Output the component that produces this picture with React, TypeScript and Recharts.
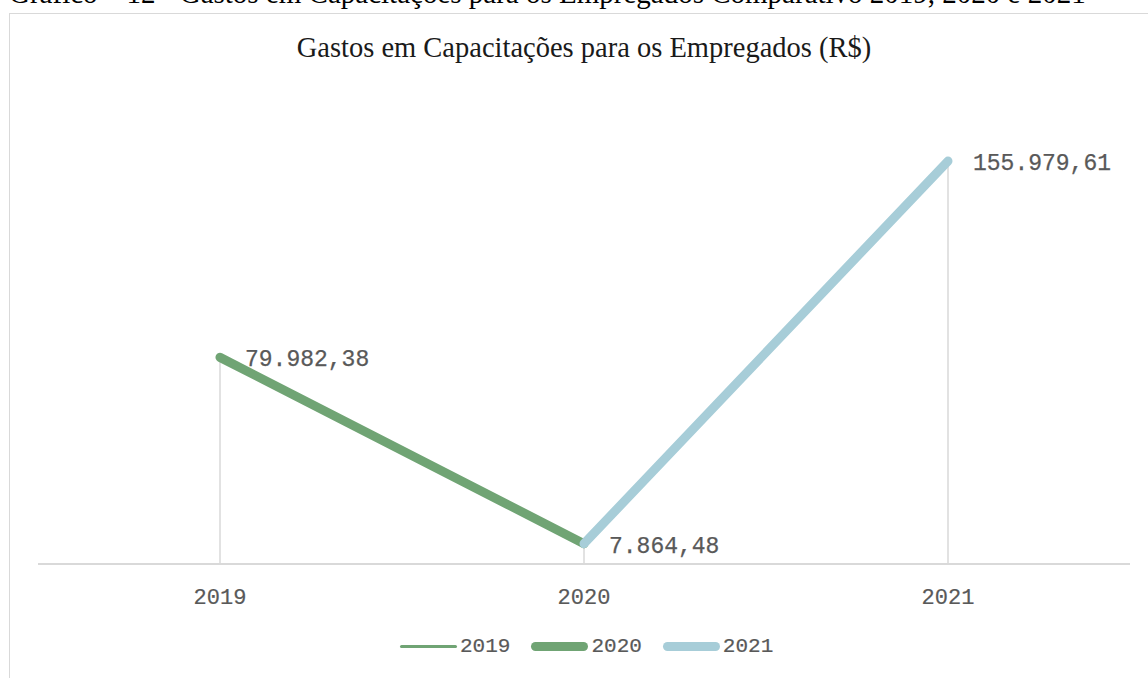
import { LineChart, Line, XAxis, YAxis, ReferenceLine, LabelList } from "recharts"

const categories = ["2019", "2020", "2021"]
const totals = [79982.38, 7864.48, 155979.61]
const series2019: (number | null)[] = [null, null, null]
const series2020: (number | null)[] = [79982.38, 7864.48, null]
const series2021: (number | null)[] = [null, 7864.48, 155979.61]

const green = "#70a474"
const blue = "#a7cdd8"
const grid = "#d9d9d9"
const textColor = "#595959"
const labelFont = "'Liberation Mono', monospace"

const data = categories.map((year, i) => ({
  year,
  s2019: series2019[i],
  s2020: series2020[i],
  s2021: series2021[i],
}))

const legendItems = [
  { name: "2019", color: green, width: 3 },
  { name: "2020", color: green, width: 9 },
  { name: "2021", color: blue, width: 9 },
]

function brl(v: number) {
  const [int, dec] = v.toFixed(2).split(".")
  return int.replace(/\B(?=(\d{3})+(?!\d))/g, ".") + "," + dec
}

function makeLabel(skip: number[]) {
  return (props: any) => {
    const { x, y, value, index } = props
    if (value == null || skip.includes(index)) return null
    return (
      <text
        x={x + 25}
        y={y + 3}
        dominantBaseline="central"
        fontFamily={labelFont}
        fontSize={23}
        fill={textColor}
        stroke={textColor}
        strokeWidth={0.25}
      >
        {brl(value)}
      </text>
    )
  }
}

function YearTick(props: any) {
  const { x, y, payload } = props
  return (
    <text x={x} y={y + 32} textAnchor="middle" fontFamily={labelFont} fontSize={22} fill={textColor} stroke={textColor} strokeWidth={0.2}>
      {payload.value}
    </text>
  )
}

export default function App() {
  return (
    <div style={{ position: "fixed", left: 0, top: 0, width: 1148, height: 678, overflow: "hidden", background: "#fff" }}>
      <div
        style={{
          position: "absolute",
          left: 9,
          top: -21,
          whiteSpace: "nowrap",
          fontFamily: "'Liberation Serif', serif",
          fontSize: 29,
          lineHeight: "29px",
          color: "#000",
        }}
      >
        Gráfico – 12 - Gastos em Capacitações para os Empregados Comparativo 2019, 2020 e 2021
      </div>
      <div
        style={{
          position: "absolute",
          left: 9,
          top: 13,
          width: 1200,
          height: 700,
          border: `1px solid ${grid}`,
        }}
      />
      <div
        style={{
          position: "absolute",
          left: 0,
          top: 34,
          width: 1168,
          textAlign: "center",
          fontFamily: "'Liberation Serif', serif",
          fontSize: 28.5,
          lineHeight: "28.5px",
          color: "#1a1a1a",
        }}
      >
        Gastos em Capacitações para os Empregados (R$)
      </div>
      <div style={{ position: "absolute", left: 0, top: 0 }}>
        <LineChart width={1148} height={678} data={data} margin={{ top: 99, right: 18, bottom: 84, left: 38 }}>
          <XAxis
            dataKey="year"
            height={30}
            padding={{ left: 182, right: 182 }}
            axisLine={{ stroke: grid, strokeWidth: 2 }}
            tickLine={false}
            tick={<YearTick />}
            interval={0}
          />
          <YAxis hide domain={[0, 180000]} />
          {categories.map((c, i) => (
            <ReferenceLine
              key={c}
              segment={[
                { x: c, y: 0 },
                { x: c, y: totals[i] },
              ]}
              stroke={grid}
              strokeWidth={1.5}
            />
          ))}
          <Line dataKey="s2019" name="2019" stroke={green} strokeWidth={3} dot={false} isAnimationActive={false} />
          <Line
            dataKey="s2020"
            name="2020"
            stroke={green}
            strokeWidth={9}
            strokeLinecap="round"
            dot={false}
            isAnimationActive={false}
          >
            <LabelList dataKey="s2020" content={makeLabel([1])} />
          </Line>
          <Line
            dataKey="s2021"
            name="2021"
            stroke={blue}
            strokeWidth={9}
            strokeLinecap="round"
            dot={false}
            isAnimationActive={false}
          >
            <LabelList dataKey="s2021" content={makeLabel([])} />
          </Line>
        </LineChart>
      </div>
      <div
        style={{
          position: "absolute",
          left: 400,
          top: 635,
          display: "flex",
          alignItems: "center",
          gap: 21,
          fontFamily: labelFont,
          fontSize: 21,
          color: textColor,
          WebkitTextStroke: `0.2px ${textColor}`,
        }}
      >
        {legendItems.map((it) => (
          <div key={it.name} style={{ display: "flex", alignItems: "center" }}>
            <div style={{ width: 57, height: it.width, borderRadius: it.width, background: it.color, marginRight: 3 }} />
            <span>{it.name}</span>
          </div>
        ))}
      </div>
    </div>
  )
}
